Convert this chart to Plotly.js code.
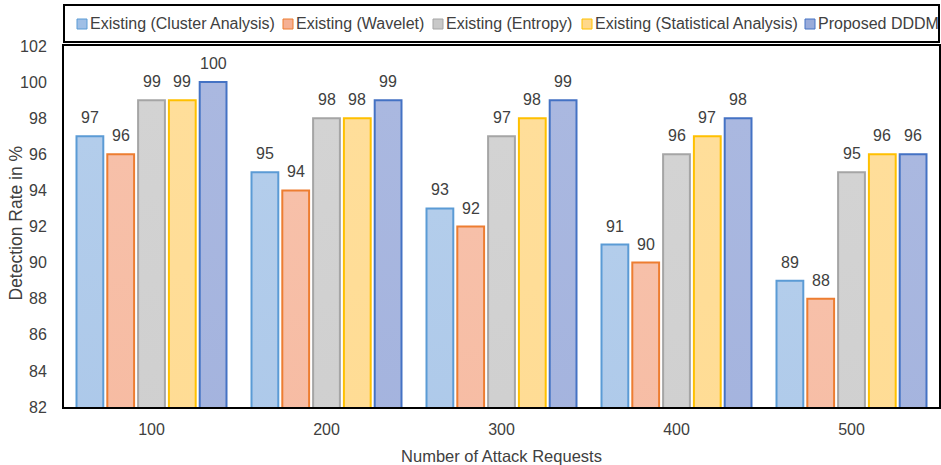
<!DOCTYPE html>
<html>
<head>
<meta charset="utf-8">
<script src="https://cdn.plot.ly/plotly-3.0.1.min.js"></script>
<style>
  html, body { margin: 0; padding: 0; background: #ffffff; }
  #chart { width: 941px; height: 465px; }
</style>
</head>
<body>
<div id="chart"></div>
<script>
// ---- data ----
const categories = ['100', '200', '300', '400', '500'];
const seriesNames = [
  'Existing (Cluster Analysis)',
  'Existing (Wavelet)',
  'Existing (Entropy)',
  'Existing (Statistical Analysis)',
  'Proposed DDDM'
];
const clusterAnalysis     = [97, 95, 93, 91, 89];
const wavelet             = [96, 94, 92, 90, 88];
const entropy             = [99, 98, 97, 96, 95];
const statisticalAnalysis = [99, 98, 98, 97, 96];
const proposedDDDM        = [100, 99, 99, 98, 96];
const yTickVals = [82, 84, 86, 88, 90, 92, 94, 96, 98, 100, 102];
const xTitle = 'Number of Attack Requests';
const yTitle = 'Detection Rate in %';

// ---- styles ----
const seriesValues = [clusterAnalysis, wavelet, entropy, statisticalAnalysis, proposedDDDM];
const fillColors = ['#9fbfe6', '#f5b094', '#c8c8c8', '#ffd88a', '#99abda'];
const gradTop    = ['#b3cdeb', '#f7c0a9', '#d3d3d3', '#ffde9a', '#aab8e0'];
const gradBottom = ['#8cb2e2', '#f4a37f', '#bfbfbf', '#ffd37a', '#8a9fd5'];
const lineColors = ['#5b9bd5', '#ed7d31', '#a5a5a5', '#ffc000', '#4472c4'];
const FONT = 'Liberation Sans, Arial, sans-serif';
const TXT = '#404040';

const W = 941, H = 465;
const margin = {l: 64, r: 2, t: 46, b: 58, pad: 0};
const plotW = W - margin.l - margin.r;
const plotH = H - margin.t - margin.b;
const bargap = 0.12, bargroupgap = 0.13;
const slot = plotW / categories.length * (1 - bargap) / seriesNames.length;

const traces = seriesNames.map((name, i) => ({
  type: 'bar',
  name: name,
  x: categories,
  y: seriesValues[i],
  marker: {color: fillColors[i], line: {color: lineColors[i], width: 2}},
  showlegend: false,
  hoverinfo: 'x+y+name'
}));

// value labels above bars (x given as category index)
const annotations = [];
seriesValues.forEach((vals, i) => {
  vals.forEach((v, j) => {
    annotations.push({
      x: j, y: v, xref: 'x', yref: 'y',
      text: String(v), showarrow: false,
      xanchor: 'center', yanchor: 'bottom',
      xshift: (i - (seriesNames.length - 1) / 2) * slot,
      yshift: 8,
      font: {family: FONT, size: 16, color: TXT}
    });
  });
});

const pxX = px => (px - margin.l) / plotW;
const pxY = py => (H - margin.b - py) / plotH;

// y axis title
annotations.push({
  xref: 'paper', yref: 'paper', x: pxX(15.5), y: pxY(223),
  xanchor: 'center', yanchor: 'middle', textangle: -90, showarrow: false,
  text: yTitle, font: {family: FONT, size: 17.5, color: TXT}
});

// custom legend (box across top)
const legendSquareX = [77, 283, 433, 582, 805];
const shapes = [{
  type: 'rect', xref: 'paper', yref: 'paper',
  x0: pxX(64), x1: pxX(939), y0: pxY(42), y1: pxY(5),
  line: {color: '#000000', width: 2}, fillcolor: 'rgba(0,0,0,0)'
}];
seriesNames.forEach((name, i) => {
  shapes.push({
    type: 'rect', xref: 'paper', yref: 'paper',
    x0: pxX(legendSquareX[i]), x1: pxX(legendSquareX[i] + 10),
    y0: pxY(29), y1: pxY(19),
    line: {color: lineColors[i], width: 1}, fillcolor: fillColors[i]
  });
  annotations.push({
    xref: 'paper', yref: 'paper',
    x: pxX(legendSquareX[i] + 11), y: pxY(24),
    xanchor: 'left', yanchor: 'middle', showarrow: false,
    text: name, font: {family: FONT, size: 16, color: TXT}
  });
});

const layout = {
  width: W, height: H,
  margin: margin,
  paper_bgcolor: '#ffffff', plot_bgcolor: '#ffffff',
  barmode: 'group', bargap: bargap, bargroupgap: bargroupgap,
  showlegend: false,
  font: {family: FONT, size: 16, color: TXT},
  xaxis: {
    type: 'category',
    range: [-0.5, categories.length - 0.5],
    showline: true, mirror: true, linecolor: '#000000', linewidth: 2,
    showgrid: false, zeroline: false,
    ticks: 'outside', ticklen: 7, tickcolor: 'rgba(0,0,0,0)',
    tickfont: {family: FONT, size: 16, color: TXT},
    title: {text: xTitle, font: {family: FONT, size: 16.5, color: TXT}, standoff: 13}
  },
  yaxis: {
    range: [82, 102],
    tickvals: yTickVals,
    showline: true, mirror: true, linecolor: '#000000', linewidth: 2,
    showgrid: false, zeroline: false,
    ticks: 'outside', ticklen: 12, tickcolor: 'rgba(0,0,0,0)',
    tickfont: {family: FONT, size: 16, color: TXT}
  },
  annotations: annotations,
  shapes: shapes
};

Plotly.newPlot('chart', traces, layout, {displayModeBar: false, staticPlot: true}).then(gd => {
  // vertical gradient fill on bars, like the original
  const svg = gd.querySelector('.main-svg');
  const ns = 'http://www.w3.org/2000/svg';
  let defs = svg.querySelector('defs');
  if (!defs) { defs = document.createElementNS(ns, 'defs'); svg.insertBefore(defs, svg.firstChild); }
  gradTop.forEach((c, i) => {
    const lg = document.createElementNS(ns, 'linearGradient');
    lg.setAttribute('id', 'bargrad' + i);
    lg.setAttribute('x1', '0'); lg.setAttribute('y1', '0');
    lg.setAttribute('x2', '0'); lg.setAttribute('y2', '1');
    const s1 = document.createElementNS(ns, 'stop');
    s1.setAttribute('offset', '0'); s1.setAttribute('stop-color', c);
    const s2 = document.createElementNS(ns, 'stop');
    s2.setAttribute('offset', '1'); s2.setAttribute('stop-color', gradBottom[i]);
    lg.appendChild(s1); lg.appendChild(s2);
    defs.appendChild(lg);
  });
  const groups = gd.querySelectorAll('.barlayer .trace');
  groups.forEach((g, i) => {
    g.querySelectorAll('.point path').forEach(p => { p.style.fill = 'url(#bargrad' + i + ')'; });
  });
});
</script>
</body>
</html>
